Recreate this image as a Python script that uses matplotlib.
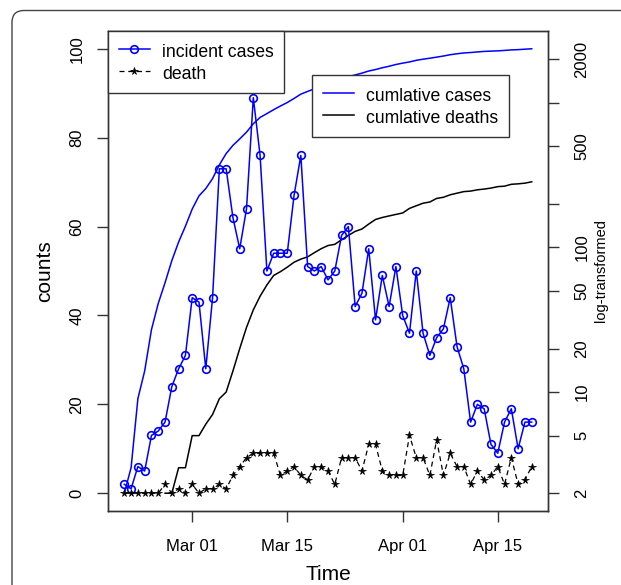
import numpy as np
import pandas as pd
import matplotlib
matplotlib.use("Agg")
import matplotlib.pyplot as plt
import matplotlib.dates as mdates
from matplotlib.patches import FancyBboxPatch

plt.rcParams['font.family'] = ['Liberation Sans', 'DejaVu Sans']

# daily counts, Feb 20 - Apr 20 2020
start_date = "2020-02-20"
incident = [2, 1, 6, 5, 13, 14, 16, 24, 28, 31,
            44, 43, 28, 44, 73, 73, 62, 55, 64, 89,
            76, 50, 54, 54, 54, 67, 76, 51, 50, 51,
            48, 50, 58, 60, 42, 45, 55, 39, 49, 42,
            51, 40, 36, 50, 36, 31, 35, 37, 44, 33,
            28, 16, 20, 19, 11, 9, 16, 19, 10, 16, 16]
deaths = [0, 0, 0, 0, 0, 0, 2, 0, 1, 0,
          2, 0, 1, 1, 2, 1, 4, 6, 8, 9,
          9, 9, 9, 4, 5, 6, 4, 3, 6, 6,
          5, 2, 8, 8, 8, 5, 11, 11, 5, 4,
          4, 4, 13, 8, 8, 4, 12, 4, 9, 6,
          6, 2, 5, 3, 4, 6, 2, 8, 2, 3, 6]
date_ticks = ["2020-03-01", "2020-03-15", "2020-04-01", "2020-04-15"]
log_ticks = [2, 5, 10, 20, 50, 100, 200, 500, 1000, 2000]
log_labels = ["2", "5", "10", "20", "50", "100", "", "500", "", "2000"]

dates = pd.date_range(start_date, periods=len(incident))
cum_cases = np.cumsum(incident).astype(float)
cum_deaths = np.cumsum(deaths).astype(float)
cum_deaths[cum_deaths == 0] = np.nan

fig = plt.figure(figsize=(6.21, 5.85), dpi=100)
ax = fig.add_axes([108 / 621, 1 - 511 / 585, 440 / 621, 480 / 585])

ax.plot(dates, incident, color='blue', lw=1.1, marker='o', ms=5.5,
        mfc='none', mec='blue', mew=1.2, label='incident cases')
ax.plot(dates, deaths, color='black', lw=0.9, ls=(0, (4, 3)), marker='*',
        ms=5.5, mfc='black', mec='black', mew=0.5, label='death')

# R-style 4% padding
pad_days = 0.04 * (len(dates) - 1)
ax.set_xlim(dates[0] - pd.Timedelta(days=pad_days), dates[-1] + pd.Timedelta(days=pad_days))
ax.set_ylim(-4, 104)
ax.set_yticks([0, 20, 40, 60, 80, 100])
ax.set_xticks(pd.to_datetime(date_ticks))
ax.xaxis.set_major_formatter(mdates.DateFormatter('%b %d'))

ax2 = ax.twinx()
ax2.plot(dates, cum_cases, color='blue', lw=1.1, label='cumlative cases')
ax2.plot(dates, cum_deaths, color='black', lw=1.1, label='cumlative deaths')
ax2.set_yscale('log')
lo, hi = np.log10(2), np.log10(np.nanmax(cum_cases))
pad = 0.04 * (hi - lo)
ax2.set_ylim(10 ** (lo - pad), 10 ** (hi + pad))
ax2.set_yticks(log_ticks)
ax2.set_yticklabels(log_labels)
ax2.yaxis.set_minor_locator(matplotlib.ticker.NullLocator())

for a in (ax, ax2):
    for s in a.spines.values():
        s.set_color('#333333')
        s.set_linewidth(1.0)
ax.tick_params(axis='x', direction='out', length=8, width=1, color='#333333',
               labelsize=12, pad=12)
ax.tick_params(axis='y', direction='out', length=8, width=1, color='#333333',
               labelsize=12, pad=9, labelrotation=90)
ax2.tick_params(axis='y', direction='out', length=8, width=1, color='#333333',
                labelsize=12, pad=11, labelrotation=90)
for lab in ax.get_yticklabels():
    lab.set_va('center')
for lab in ax2.get_yticklabels():
    lab.set_va('center')

ax.set_xlabel("Time", fontsize=15)
ax.xaxis.set_label_coords(0.5, -0.113)
ax.set_ylabel("counts", fontsize=15)
ax.yaxis.set_label_coords(-0.122, 0.5)
ax2.set_ylabel("log-transformed", fontsize=10.5)
ax2.yaxis.set_label_coords(1.105, 0.5)

leg_kw = dict(loc='upper left', borderaxespad=0, fontsize=12.7,
              handlelength=1.8, handleheight=1.25, handletextpad=0.65,
              labelspacing=0.15, borderpad=0.6, fancybox=False,
              edgecolor='#333333', framealpha=1)
leg1 = ax.legend(bbox_to_anchor=(0, 1), **leg_kw)
leg1.get_frame().set_linewidth(1.0)
leg2 = ax2.legend(bbox_to_anchor=((312 - 108) / 440, (511 - 75) / 480), **leg_kw)
leg2.get_frame().set_linewidth(1.0)
ax.set_zorder(ax2.get_zorder() + 1)
ax.patch.set_visible(False)

# journal-style outer frame
frame = FancyBboxPatch((0.12, -0.5), 7.0, 5.85 - 0.105 + 0.5,
                       boxstyle="round,pad=0,rounding_size=0.12",
                       transform=fig.dpi_scale_trans, fill=False,
                       edgecolor='#444444', lw=1.0)
fig.add_artist(frame)

fig.savefig("out.png", dpi=100)
